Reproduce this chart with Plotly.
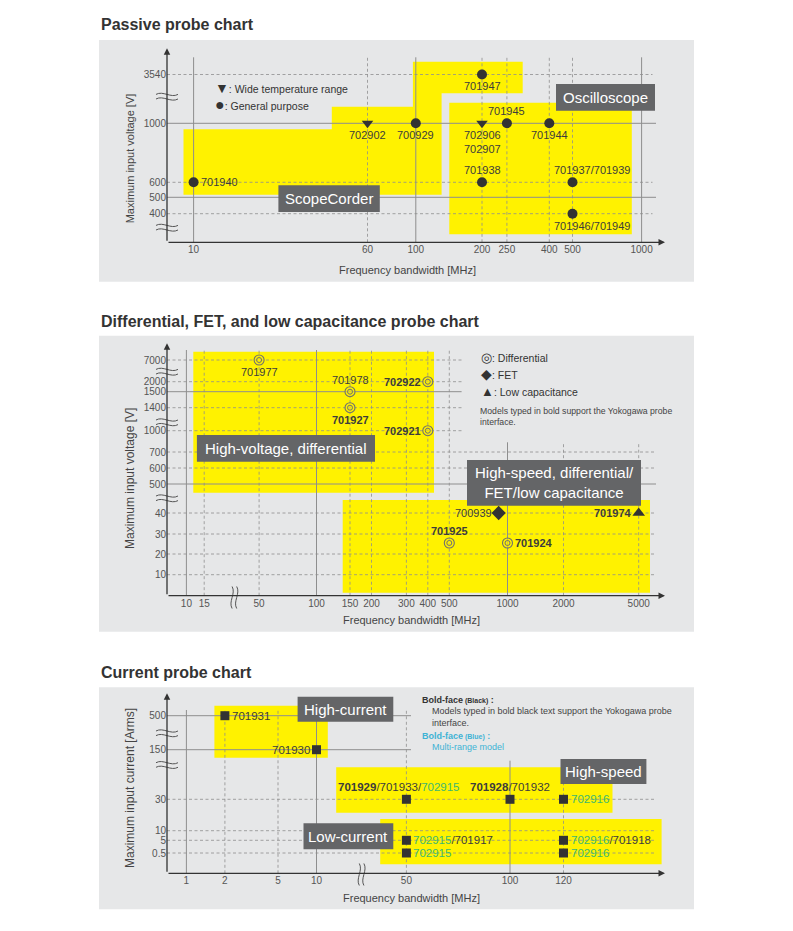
import numpy as np
import plotly.graph_objects as go

W, H = 793, 931

# ================= DATA =================
# --- Passive probe chart ---
pas_models = ["701940", "702902", "700929", "702906<br>702907", "701945", "701944",
              "701947", "701938", "701937/701939", "701946/701949"]
pas_bw = [10, 60, 100, 200, 250, 400, 200, 200, 500, 500]            # MHz
pas_volt = [600, 1000, 1000, 1000, 1000, 1000, 3540, 600, 600, 400]  # V
pas_kind = ["general", "wide", "general", "wide", "general", "general",
            "general", "general", "general", "general"]
pas_xticks = [10, 60, 100, 200, 250, 400, 500, 1000]
pas_yticks = [400, 500, 600, 1000, 3540]

# --- Differential, FET, low capacitance probe chart ---
dif_models = ["701977", "701978", "702922", "701927", "702921", "700939", "701974", "701925", "701924"]
dif_bw = [50, 150, 400, 150, 400, 900, 5000, 500, 1000]
dif_volt = [7000, 1500, 2000, 1400, 1000, 40, 40, 25, 25]
dif_kind = ["diff", "diff", "diff", "diff", "diff", "fet", "lowcap", "diff", "diff"]
dif_bold = [False, False, True, True, True, False, True, True, True]
dif_xticks = [10, 15, 50, 100, 150, 200, 300, 400, 500, 1000, 2000, 5000]
dif_yticks = [10, 20, 30, 40, 500, 600, 700, 1000, 1400, 1500, 2000, 7000]

# --- Current probe chart ---
cur_models = ["701931", "701930", "701929/701933/702915", "701928/701932", "702916",
              "702915/701917", "702915", "702916/701918", "702916"]
cur_bw = [2, 10, 50, 100, 120, 50, 50, 120, 120]
cur_amp = [500, 150, 30, 30, 30, 5, 0.5, 5, 0.5]
cur_bold_black = ["701929", "701928"]
cur_multi_range = ["702915", "702916"]
cur_xticks = [1, 2, 5, 10, 50, 100, 120]
cur_yticks = [0.5, 5, 10, 30, 150, 500]

# ================= STYLE / LAYOUT =================
YELLOW = "#FFF200"
PANEL = "#E6E7E8"
BOX = "#646567"
DARK = "#333333"
LAB = "#3c3c3c"
GRID = "#8e8e8e"
TICK = "#555555"
GREEN = "#3DB871"
CYAN = "#3FB3D5"
FONT = "Liberation Sans, Arial, sans-serif"
OFF = 8  # the page's default body margin shifts the figure by 8px


def log_scale(anchor_vals, anchor_pos):
    """Hand-drawn broken axis scale: value -> axis units, log-interpolated between anchors."""
    lv = np.log10(np.asarray(anchor_vals, float))
    ap = np.asarray(anchor_pos, float)
    return lambda v: np.interp(np.log10(np.asarray(v, float)), lv, ap)


# axis units are laid out so that one unit equals one screen pixel
sx1 = log_scale([10, 60, 100, 200, 250, 400, 500, 1000],
                [193.6, 367.5, 415.8, 482, 506.9, 549.3, 572.5, 641.6])
sy1 = log_scale([400, 500, 600, 1000, 3540], [213.7, 197.3, 182.3, 123.3, 74.5])
sx2 = log_scale([10, 15, 50, 100, 150, 200, 300, 400, 500, 1000, 2000, 5000],
                [186.4, 204.2, 259.1, 316.5, 350, 371.5, 406.4, 427.8, 449.3, 507.5, 563.5, 638.7])
sy2 = log_scale([10, 20, 30, 40, 500, 600, 700, 1000, 1400, 1500, 2000, 7000],
                [574.7, 554, 534, 513, 484, 468, 452, 430.7, 407.7, 391.7, 381.7, 360])
sx3 = log_scale([1, 2, 5, 10, 50, 100, 120], [186.4, 224.9, 278, 316.5, 406.4, 510, 563.5])
sy3 = log_scale([0.5, 5, 10, 30, 150, 500], [853, 840.3, 830.7, 799.3, 749.7, 715.7])

YAX_X = 167
PANEL_R = 694
charts = {
    1: dict(panel=(99, 40, 694, 281.7), xaxis_y=242.3, arrow_top=48.3, arrow_right=665),
    2: dict(panel=(99, 335.7, 694, 631.7), xaxis_y=595.7, arrow_top=343.3, arrow_right=665),
    3: dict(panel=(99, 687.3, 694, 909.3), xaxis_y=873.3, arrow_top=693.3, arrow_right=665),
}

shapes = []
annotations = []


def px(v):
    return (v - OFF) / W


def py(v):
    return 1 - (v - OFF) / H


def prect(x0, y0, x1, y1, fill, layer="below"):
    shapes.append(dict(type="rect", xref="paper", yref="paper", x0=px(x0), x1=px(x1),
                       y0=py(y1), y1=py(y0), fillcolor=fill, line=dict(width=0), layer=layer))


def ppoly(pts, fill):
    path = "M " + " L ".join(f"{px(x):.5f},{py(y):.5f}" for x, y in pts) + " Z"
    shapes.append(dict(type="path", xref="paper", yref="paper", path=path,
                       fillcolor=fill, line=dict(width=0), layer="below"))


def ptext(x, y, text, size, color=DARK, xanchor="left", yanchor="middle", angle=0, align="left"):
    annotations.append(dict(xref="paper", yref="paper", x=px(x), y=py(y), text=text,
                            showarrow=False, xanchor=xanchor, yanchor=yanchor, textangle=angle,
                            align=align, font=dict(family=FONT, size=size, color=color)))


def pbox(x0, y0, x1, y1, text, size=15):
    prect(x0, y0, x1, y1, BOX, layer="above")
    annotations.append(dict(xref="paper", yref="paper", x=px((x0 + x1) / 2), y=py((y0 + y1) / 2),
                            text=text, showarrow=False, xanchor="center", yanchor="middle",
                            font=dict(family=FONT, size=size, color="white")))


def wave_h(cx, cy):
    for dy in (-2.3, 2.3):
        y = cy + dy
        x0 = cx - 11
        path = (f"M {px(x0):.5f},{py(y):.5f} C {px(x0 + 7):.5f},{py(y - 4):.5f} "
                f"{px(x0 + 15):.5f},{py(y + 4):.5f} {px(x0 + 22):.5f},{py(y):.5f}")
        shapes.append(dict(type="path", xref="paper", yref="paper", path=path,
                           line=dict(color="#555", width=1), layer="above"))


def wave_v(cx, cy):
    for dx in (-2.3, 2.3):
        x = cx + dx
        y0 = cy - 11
        path = (f"M {px(x):.5f},{py(y0):.5f} C {px(x + 4):.5f},{py(y0 + 7):.5f} "
                f"{px(x - 4):.5f},{py(y0 + 15):.5f} {px(x):.5f},{py(y0 + 22):.5f}")
        shapes.append(dict(type="path", xref="paper", yref="paper", path=path,
                           line=dict(color="#555", width=1), layer="above"))


def gridline(n, orient, pos, start, end, solid):
    xr, yr = ("x" if n == 1 else f"x{n}"), ("y" if n == 1 else f"y{n}")
    line = dict(color=GRID, width=1.0 if solid else 0.8, dash="solid" if solid else "3px,2.5px")
    if orient == "v":
        shapes.append(dict(type="line", xref=xr, yref=yr, x0=pos, x1=pos, y0=start, y1=end,
                           line=line, layer="below"))
    else:
        shapes.append(dict(type="line", xref=xr, yref=yr, x0=start, x1=end, y0=pos, y1=pos,
                           line=line, layer="below"))


def axis_arrows(n):
    g = charts[n]
    xr, yr = ("x" if n == 1 else f"x{n}"), ("y" if n == 1 else f"y{n}")
    for (x, y) in [(YAX_X, g["arrow_top"]), (g["arrow_right"], g["xaxis_y"])]:
        annotations.append(dict(xref=xr, yref=yr, axref=xr, ayref=yr, x=x, y=y,
                                ax=YAX_X, ay=g["xaxis_y"], text="", showarrow=True,
                                arrowhead=2, arrowsize=1.0, arrowwidth=1.3, arrowcolor=DARK,
                                standoff=0, startstandoff=0))


def label(n, x, y, text, pos, size=11, color=LAB, dx=0):
    xr, yr = ("x" if n == 1 else f"x{n}"), ("y" if n == 1 else f"y{n}")
    a = dict(xref=xr, yref=yr, x=float(x), y=float(y), text=text, showarrow=False,
             font=dict(family=FONT, size=size, color=color))
    if pos == "r":
        a.update(xanchor="left", yanchor="middle", xshift=5 + dx)
    elif pos == "l":
        a.update(xanchor="right", yanchor="middle", xshift=-5 + dx)
    elif pos == "a":
        a.update(xanchor="center", yanchor="bottom", yshift=4, xshift=dx)
    else:
        a.update(xanchor="center", yanchor="top", yshift=-4, xshift=dx)
    annotations.append(a)


# ---------- panels & titles ----------
for n, g in charts.items():
    prect(*g["panel"], PANEL)
ptext(99, 24, "<b>Passive probe chart</b>", 16, DARK)
ptext(99, 321, "<b>Differential, FET, and low capacitance probe chart</b>", 16, DARK)
ptext(99, 672.5, "<b>Current probe chart</b>", 16, DARK)

# ---------- yellow regions ----------
ppoly([(183.5, 194.7), (441.6, 194.7), (441.6, 93.3), (522.7, 93.3), (522.7, 61.7),
       (412.9, 61.7), (412.9, 106.7), (331.8, 106.7), (331.8, 129.3), (183.5, 129.3)], YELLOW)
prect(449.3, 102.7, 631.8, 234.3, YELLOW)
prect(193.3, 351.7, 434, 492.7, YELLOW)
prect(342.7, 500, 650, 592.7, YELLOW)
prect(214.4, 705.7, 327.8, 757.7, YELLOW)
prect(336.2, 767.3, 612.5, 812.7, YELLOW)
prect(380.2, 819, 661.6, 864.3, YELLOW)

# ---------- gridlines ----------
g = charts[1]
for t in pas_xticks:
    gridline(1, "v", float(sx1(t)), g["xaxis_y"], 57.3, t in (10, 100, 1000))
for t in pas_yticks:
    solid = t in (500, 1000)
    gridline(1, "h", float(sy1(t)), YAX_X, 656 if solid else 652.5, solid)
g = charts[2]
for t in dif_xticks:
    top = 350 if t <= 500 else 442.3
    gridline(2, "v", float(sx2(t)), g["xaxis_y"], top, t in (10, 100, 1000))
for t in dif_yticks:
    solid = t in (500, 1500)
    end = 461.6 if t >= 1000 else (656 if solid else 654.4)
    gridline(2, "h", float(sy2(t)), YAX_X, end, solid)
g = charts[3]
for t in cur_xticks:
    top = 710 if t <= 50 else 760.7
    gridline(3, "v", float(sx3(t)), g["xaxis_y"], top, t in (1, 10, 100))
for t in cur_yticks:
    solid = t in (150, 500)
    gridline(3, "h", float(sy3(t)), YAX_X, 411 if solid else 654.4, solid)

for n in charts:
    axis_arrows(n)

# ---------- breaks ----------
wave_h(167, 96.7); wave_h(167, 227.7)
wave_h(167, 371.7); wave_h(167, 422.3); wave_h(167, 498.3)
wave_v(234.4, 597.5)
wave_h(167, 733.3); wave_h(167, 765)
wave_v(361.6, 874.5)

# ---------- grey category boxes ----------
pbox(556, 84, 655, 110.7, "Oscilloscope")
pbox(278.4, 185.3, 379.8, 212, "ScopeCorder")
pbox(196.9, 435, 375, 461.7, "High-voltage, differential")
pbox(467, 460, 641, 505.7, "High-speed, differential/<br>FET/low capacitance")
pbox(297.6, 696.7, 393.3, 721.7, "High-current")
pbox(560.5, 759, 646.4, 784, "High-speed")
pbox(303.5, 823.3, 393.3, 849.3, "Low-current")

# ---------- legends / notes ----------
def glyph(ch, size):
    return f"<span style='font-size:{size}px'>{ch}</span>"


ptext(213, 87.7, glyph("▼", 14) + ": Wide temperature range", 10.5, DARK)
ptext(213, 104.3, glyph("●", 16) + ": General purpose", 10.5, DARK)

ptext(479, 357.7, glyph("◎", 13) + ": Differential", 10.5, DARK)
ptext(479, 374.3, glyph("◆", 14) + ": FET", 10.5, DARK)
ptext(479, 391.7, glyph("▲", 13) + ": Low capacitance", 10.5, DARK)
ptext(478, 404, "Models typed in bold support the Yokogawa probe<br>interface.", 8.7, "#444",
      yanchor="top")

ptext(420, 700, "<b>Bold-face<span style='font-size:7px'> (Black)</span> :</b>", 9, DARK)
ptext(429.5, 704, "Models typed in bold black text support the Yokogawa probe<br>interface.", 9.0, "#444",
      yanchor="top")
ptext(420, 736, "<b>Bold-face<span style='font-size:7px'> (Blue)</span> :</b>", 9, CYAN)
ptext(429.5, 746.7, "Multi-range model", 9.0, CYAN)

# ---------- axis titles ----------
ptext(130, 158.3, "Maximum input voltage [V]", 11, "#444", xanchor="center", angle=-90)
ptext(407, 270, "Frequency bandwidth [MHz]", 11, "#444", xanchor="center")
ptext(130, 479, "Maximum input voltage [V]", 12, "#444", xanchor="center", angle=-90)
ptext(411.6, 620, "Frequency bandwidth [MHz]", 11, "#444", xanchor="center")
ptext(130, 788, "Maximum input current [Arms]", 12, "#444", xanchor="center", angle=-90)
ptext(411.6, 898.3, "Frequency bandwidth [MHz]", 11, "#444", xanchor="center")

# ================= TRACES =================
fig = go.Figure()

# chart 1
for kind, sym in [("general", "circle"), ("wide", "triangle-down")]:
    idx = [i for i, k in enumerate(pas_kind) if k == kind]
    fig.add_trace(go.Scatter(x=sx1([pas_bw[i] for i in idx]), y=sy1([pas_volt[i] for i in idx]),
                             mode="markers", xaxis="x", yaxis="y", cliponaxis=False,
                             marker=dict(symbol=sym, size=10, color=DARK, line=dict(width=0)),
                             hoverinfo="skip", showlegend=False))
pas_pos = ["r", "b", "b", "b", "a", "b", "b", "a", "a", "b"]
pas_dx = [0, 0, 0, 0, 0, 0, 0, 0, 19, 19]
for i, m in enumerate(pas_models):
    label(1, sx1(pas_bw[i]), sy1(pas_volt[i]), m, pas_pos[i], dx=pas_dx[i])

# chart 2
idx = [i for i, k in enumerate(dif_kind) if k == "diff"]
dx_, dy_ = sx2([dif_bw[i] for i in idx]), sy2([dif_volt[i] for i in idx])
fig.add_trace(go.Scatter(x=dx_, y=dy_, mode="markers", xaxis="x2", yaxis="y2", cliponaxis=False,
                         marker=dict(symbol="circle", size=10, color="rgba(255,242,0,0.6)",
                                     line=dict(color="#707070", width=1.1)),
                         hoverinfo="skip", showlegend=False))
fig.add_trace(go.Scatter(x=dx_, y=dy_, mode="markers", xaxis="x2", yaxis="y2", cliponaxis=False,
                         marker=dict(symbol="circle-open", size=5, color="#707070", line=dict(width=1)),
                         hoverinfo="skip", showlegend=False))
for kind, sym in [("fet", "diamond"), ("lowcap", "triangle-up")]:
    idx = [i for i, k in enumerate(dif_kind) if k == kind]
    fig.add_trace(go.Scatter(x=sx2([dif_bw[i] for i in idx]), y=sy2([dif_volt[i] for i in idx]),
                             mode="markers", xaxis="x2", yaxis="y2", cliponaxis=False,
                             marker=dict(symbol=sym, size=11, color=DARK, line=dict(width=0)),
                             hoverinfo="skip", showlegend=False))
dif_pos = ["b", "a", "l", "b", "l", "l", "l", "a", "r"]
for i, m in enumerate(dif_models):
    txt = f"<b>{m}</b>" if dif_bold[i] else m
    label(2, sx2(dif_bw[i]), sy2(dif_volt[i]), txt, dif_pos[i])

# chart 3
fig.add_trace(go.Scatter(x=sx3(cur_bw), y=sy3(cur_amp), mode="markers", xaxis="x3", yaxis="y3",
                         cliponaxis=False,
                         marker=dict(symbol="square", size=9, color=DARK, line=dict(width=0)),
                         hoverinfo="skip", showlegend=False))


def cur_fmt(s):
    out = []
    for p in s.split("/"):
        if p in cur_bold_black:
            out.append(f"<b>{p}</b>")
        elif p in cur_multi_range:
            out.append(f"<span style='color:{GREEN}'>{p}</span>")
        else:
            out.append(p)
    return "/".join(out)


cur_pos = ["r", "l", "a", "a", "r", "r", "r", "r", "r"]
cur_dx = [0, 0, -7, 0, 0, 0, 0, 0, 0]
for i, m in enumerate(cur_models):
    label(3, sx3(cur_bw[i]), sy3(cur_amp[i]), cur_fmt(m), cur_pos[i], size=11.5, dx=cur_dx[i])

# ================= AXES =================
axis_common = dict(showgrid=False, zeroline=False, showline=False, ticks="",
                   tickfont=dict(family=FONT, size=10, color=TICK), tickangle=0, fixedrange=True)
layout_axes = {}
for n, (sx, sy, xt, yt) in {1: (sx1, sy1, pas_xticks, pas_yticks),
                            2: (sx2, sy2, dif_xticks, dif_yticks),
                            3: (sx3, sy3, cur_xticks, cur_yticks)}.items():
    g = charts[n]
    top = g["panel"][1]
    sfx = "" if n == 1 else str(n)
    layout_axes["xaxis" + sfx] = dict(axis_common, domain=[px(YAX_X), px(PANEL_R)],
                                      range=[YAX_X, PANEL_R], anchor="y" + sfx,
                                      tickvals=[float(v) for v in sx(xt)],
                                      ticktext=[str(t) for t in xt])
    layout_axes["yaxis" + sfx] = dict(axis_common, domain=[py(g["xaxis_y"]), py(top)],
                                      range=[g["xaxis_y"], top], anchor="x" + sfx,
                                      tickvals=[float(v) for v in sy(yt)],
                                      ticktext=[str(t) for t in yt])

fig.update_layout(width=W, height=H, margin=dict(l=0, r=0, t=0, b=0),
                  paper_bgcolor="white", plot_bgcolor="rgba(0,0,0,0)",
                  font=dict(family=FONT, color=DARK), showlegend=False,
                  shapes=shapes, annotations=annotations, **layout_axes)

fig.write_html("out.html")
